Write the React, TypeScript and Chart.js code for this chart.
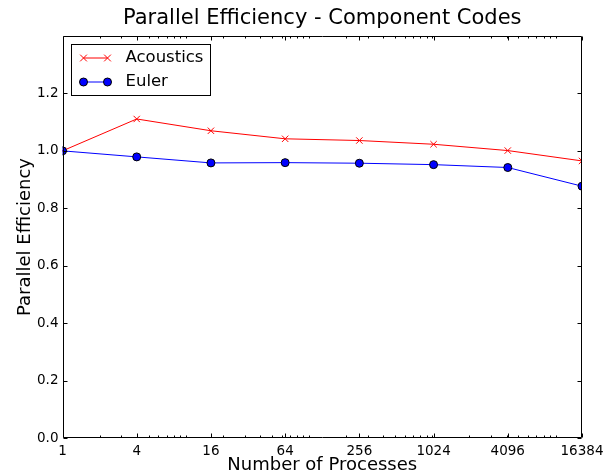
import React, { useEffect, useRef } from "react";
import { Chart, registerables } from "chart.js";

Chart.register(...registerables);

const X_VALUES = [1, 4, 16, 64, 256, 1024, 4096, 16384];
const X_TICKS = [1, 4, 16, 64, 256, 1024, 4096, 16384];
const Y_TICKS = [0, 0.2, 0.4, 0.6, 0.8, 1.0, 1.2];
const ACOUSTICS = [1.0, 1.111, 1.07, 1.042, 1.036, 1.023, 1.001, 0.965];
const EULER = [1.0, 0.979, 0.958, 0.959, 0.957, 0.952, 0.942, 0.877];
const SERIES_NAMES = ["Acoustics", "Euler"];
const TITLE = "Parallel Efficiency - Component Codes";
const X_LABEL = "Number of Processes";
const Y_LABEL = "Parallel Efficiency";

const FONT = '"DejaVu Sans", "Liberation Sans", sans-serif';

function minorXTicks(min: number, max: number): number[] {
  const out: number[] = [];
  for (let p = 1; p <= 100000; p *= 10) {
    for (let d = 1; d <= 9; d++) {
      const v = d * p;
      if (v > min && v < max && !X_TICKS.includes(v)) out.push(v);
    }
  }
  return out;
}

const framePlugin = {
  id: "frameTicks",
  afterDatasetsDraw(chart: any) {
    const { ctx, chartArea } = chart;
    const { left, right, top, bottom } = chartArea;
    const xs = chart.scales.x;
    const ys = chart.scales.y;
    ctx.save();
    ctx.strokeStyle = "#000";
    ctx.lineWidth = 1;
    const L = Math.round(left) + 0.5;
    const R = Math.round(right) - 0.5;
    const T = Math.round(top) + 0.5;
    const B = Math.round(bottom) - 0.5;
    ctx.beginPath();
    ctx.rect(L, T, R - L, B - T);
    ctx.stroke();
    ctx.beginPath();
    const major = 4;
    const minor = 2;
    for (const v of X_TICKS) {
      const px = Math.round(xs.getPixelForValue(v)) + 0.5;
      ctx.moveTo(px, B);
      ctx.lineTo(px, B - major);
      ctx.moveTo(px, T);
      ctx.lineTo(px, T + major);
    }
    for (const v of minorXTicks(xs.min, xs.max)) {
      const px = Math.round(xs.getPixelForValue(v)) + 0.5;
      ctx.moveTo(px, B);
      ctx.lineTo(px, B - minor);
      ctx.moveTo(px, T);
      ctx.lineTo(px, T + minor);
    }
    for (const v of Y_TICKS) {
      const py = Math.round(ys.getPixelForValue(v)) + 0.5;
      ctx.moveTo(L, py);
      ctx.lineTo(L + major, py);
      ctx.moveTo(R, py);
      ctx.lineTo(R - major, py);
    }
    ctx.stroke();

    // title
    ctx.fillStyle = "#000";
    ctx.font = `21px ${FONT}`;
    ctx.textAlign = "center";
    ctx.textBaseline = "middle";
    ctx.fillText(TITLE, (left + right) / 2, 19);
    ctx.restore();
  },
  afterDraw(chart: any) {
    const { ctx, chartArea } = chart;
    const bx = Math.round(chartArea.left) + 8.5;
    const by = Math.round(chartArea.top) + 8.5;
    const bw = 139;
    const bh = 51;
    ctx.save();
    ctx.fillStyle = "#fff";
    ctx.strokeStyle = "#000";
    ctx.lineWidth = 1;
    ctx.fillRect(bx, by, bw, bh);
    ctx.strokeRect(bx, by, bw, bh);
    chart.data.datasets.forEach((ds: any, i: number) => {
      const y = by + 13.5 + i * 24;
      const x0 = bx + 12;
      const x1 = bx + 36;
      ctx.strokeStyle = ds.borderColor;
      ctx.lineWidth = 1;
      ctx.beginPath();
      ctx.moveTo(x0, y);
      ctx.lineTo(x1, y);
      ctx.stroke();
      for (const x of [x0, x1]) {
        if (ds.pointStyle === "crossRot") {
          const r = ds.pointRadius * 0.75;
          ctx.strokeStyle = ds.pointBorderColor;
          ctx.beginPath();
          ctx.moveTo(x - r, y - r);
          ctx.lineTo(x + r, y + r);
          ctx.moveTo(x - r, y + r);
          ctx.lineTo(x + r, y - r);
          ctx.stroke();
        } else {
          ctx.fillStyle = ds.pointBackgroundColor;
          ctx.strokeStyle = ds.pointBorderColor;
          ctx.beginPath();
          ctx.arc(x, y, ds.pointRadius, 0, Math.PI * 2);
          ctx.fill();
          ctx.stroke();
        }
      }
      ctx.fillStyle = "#000";
      ctx.font = `16.5px ${FONT}`;
      ctx.textAlign = "left";
      ctx.textBaseline = "middle";
      ctx.fillText(ds.label, bx + 54, y);
    });
    ctx.restore();
  },
};

export default function App() {
  const ref = useRef<HTMLCanvasElement | null>(null);
  useEffect(() => {
    document.body.style.margin = "0";
    const canvas = ref.current;
    if (!canvas) return;
    const chart = new Chart(canvas, {
      type: "line",
      data: {
        datasets: [
          {
            label: SERIES_NAMES[0],
            data: X_VALUES.map((x, i) => ({ x, y: ACOUSTICS[i] })),
            borderColor: "#ff0000",
            borderWidth: 1,
            pointStyle: "crossRot",
            pointRadius: 4.5,
            pointBorderColor: "#ff0000",
            pointBackgroundColor: "#ff0000",
            pointBorderWidth: 1,
            order: 2,
          },
          {
            label: SERIES_NAMES[1],
            data: X_VALUES.map((x, i) => ({ x, y: EULER[i] })),
            borderColor: "#0000ff",
            borderWidth: 1,
            pointStyle: "circle",
            pointRadius: 4,
            pointBorderColor: "#000000",
            pointBackgroundColor: "#0000ff",
            pointBorderWidth: 1,
            order: 1,
          },
        ],
      },
      options: {
        animation: false,
        responsive: false,
        devicePixelRatio: 1,
        layout: { padding: { top: 36, right: 32, bottom: 0, left: 0 } },
        plugins: {
          legend: { display: false },
          title: { display: false },
          tooltip: { enabled: false },
        },
        scales: {
          x: {
            type: "logarithmic",
            min: 1,
            max: 16384,
            afterBuildTicks: (s: any) => {
              s.ticks = X_TICKS.map((v) => ({ value: v }));
            },
            afterFit: (s: any) => {
              s.height = 38;
            },
            grid: { display: false, drawTicks: false },
            border: { display: false },
            ticks: {
              color: "#000",
              font: { family: FONT, size: 13.5 },
              padding: 5,
              maxRotation: 0,
              autoSkip: false,
              callback: (v: any) => String(v),
            },
            title: {
              display: true,
              text: X_LABEL,
              color: "#000",
              font: { family: FONT, size: 18, lineHeight: 1 },
              padding: { top: 0, bottom: 1.5 },
            },
          },
          y: {
            type: "linear",
            min: 0,
            max: 1.4,
            afterBuildTicks: (s: any) => {
              s.ticks = Y_TICKS.map((v) => ({ value: v }));
            },
            afterFit: (s: any) => {
              s.width = 62.5;
            },
            grid: { display: false, drawTicks: false },
            border: { display: false },
            ticks: {
              color: "#000",
              font: { family: FONT, size: 13.5 },
              padding: 4,
              callback: (v: any) => Number(v).toFixed(1),
            },
            title: {
              display: true,
              text: Y_LABEL,
              color: "#000",
              font: { family: FONT, size: 18, lineHeight: 1 },
              padding: { top: 16.5, bottom: 0 },
            },
          },
        },
      },
      plugins: [framePlugin],
    } as any);
    return () => chart.destroy();
  }, []);
  return (
    <div style={{ position: "absolute", left: 0, top: 0, width: 614, height: 476, background: "#fff" }}>
      <canvas ref={ref} width={614} height={476} style={{ display: "block" }} />
    </div>
  );
}
